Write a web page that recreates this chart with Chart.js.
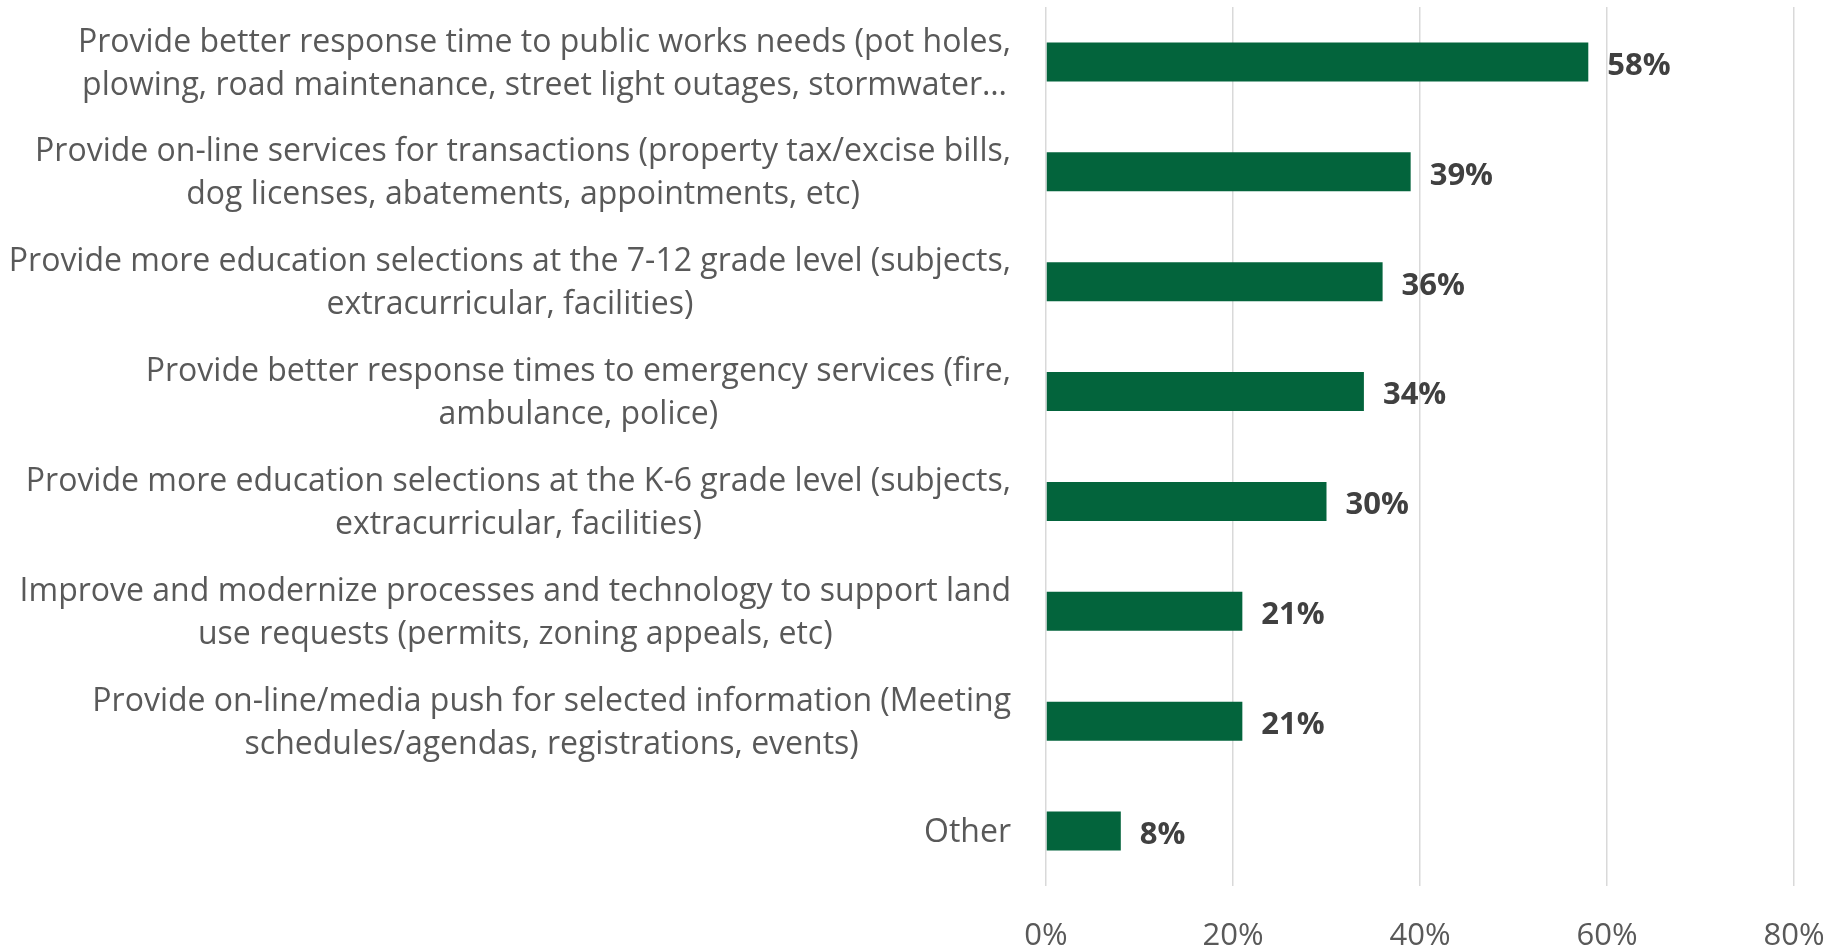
<!DOCTYPE html>
<html>
<head>
<meta charset="utf-8">
<script src="https://cdn.jsdelivr.net/npm/chart.js@4.4.1/dist/chart.umd.min.js"></script>
<style>
    html, body { margin: 0; padding: 0; background: #ffffff; }
    #wrap { width: 1831px; height: 950px; }
</style>
</head>
<body>
<div id="wrap"><canvas id="myChart" width="1831" height="950"></canvas></div>
<script>
// Категории (многострочные подписи оси Y)
const categories = [
    ['Provide better response time to public works needs (pot holes,', 'plowing, road maintenance, street light outages, stormwater\u2026'],
    ['Provide on-line services for transactions (property tax/excise bills,', 'dog licenses, abatements, appointments, etc)'],
    ['Provide more education selections at the 7-12 grade level (subjects,', 'extracurricular, facilities)'],
    ['Provide better response times to emergency services (fire,', 'ambulance, police)'],
    ['Provide more education selections at the K-6 grade level (subjects,', 'extracurricular, facilities)'],
    ['Improve and modernize processes and technology to support land', 'use requests (permits, zoning appeals, etc)'],
    ['Provide on-line/media push for selected information (Meeting', 'schedules/agendas, registrations, events)'],
    ['Other'],
];
const values = [58, 39, 36, 34, 30, 21, 21, 8];
const xTicks = [0, 20, 40, 60, 80];

const FONT = '"Open Sans", "Noto Sans", sans-serif';

document.addEventListener('DOMContentLoaded', async () => {
    try {
        await document.fonts.load(`32px ${FONT}`);
        await document.fonts.load(`bold 31px ${FONT}`);
    } catch (e) {
        console.log(e);
    }

    // Подписи категорий: блок выровнен вправо, строки центрированы внутри блока
    const categoryLabels = {
        id: 'categoryLabels',
        afterDraw(chart) {
            const { ctx, scales: { y } } = chart;
            const rightEdge = chart.chartArea.left - 35;
            const lineH = 43;
            ctx.save();
            ctx.font = `32px ${FONT}`;
            ctx.fillStyle = '#595959';
            ctx.textAlign = 'center';
            ctx.textBaseline = 'middle';
            categories.forEach((lines, i) => {
                const cy = y.getPixelForValue(i) + 2;
                const maxW = Math.max(...lines.map((l) => ctx.measureText(l).width));
                const cx = rightEdge - maxW / 2;
                const startY = cy - (lines.length - 1) * lineH / 2;
                lines.forEach((line, j) => {
                    ctx.fillText(line, cx, startY + j * lineH);
                });
            });
            ctx.restore();
        }
    };

    // Значения справа от столбцов
    const valueLabels = {
        id: 'valueLabels',
        afterDatasetsDraw(chart) {
            const { ctx } = chart;
            const meta = chart.getDatasetMeta(0);
            ctx.save();
            ctx.font = `bold 31px ${FONT}`;
            ctx.fillStyle = '#404040';
            ctx.textAlign = 'left';
            ctx.textBaseline = 'middle';
            meta.data.forEach((bar, i) => {
                ctx.fillText(`${values[i]}%`, bar.x + 19, bar.y + 4);
            });
            ctx.restore();
        }
    };

    const ctx = document.getElementById('myChart');

    new Chart(ctx, {
        type: 'bar',
        data: {
            labels: categories.map((l) => l.join(' ')),
            datasets: [{
                data: values,
                backgroundColor: '#03643C',
                borderWidth: 0,
                barPercentage: 0.355,
                categoryPercentage: 1,
            }]
        },
        options: {
            responsive: false,
            animation: false,
            indexAxis: 'y',
            layout: {
                padding: { left: 1046, right: 37, top: 7, bottom: 0 }
            },
            scales: {
                x: {
                    min: 0,
                    max: 80,
                    afterBuildTicks: (axis) => {
                        axis.ticks = xTicks.map((v) => ({ value: v }));
                    },
                    afterFit: (axis) => {
                        axis.height = 64;
                        axis.paddingLeft = 0;
                        axis.paddingRight = 0;
                    },
                    grid: {
                        color: '#d9d9d9',
                        lineWidth: 1.5,
                        drawTicks: false,
                    },
                    border: { display: false },
                    ticks: {
                        padding: 32,
                        color: '#595959',
                        font: { family: FONT, size: 31 },
                        callback: (v) => `${v}%`,
                        maxRotation: 0,
                    }
                },
                y: {
                    display: false,
                }
            },
            plugins: {
                legend: { display: false },
                tooltip: { enabled: false },
            }
        },
        plugins: [categoryLabels, valueLabels]
    });
});
</script>
</body>
</html>
